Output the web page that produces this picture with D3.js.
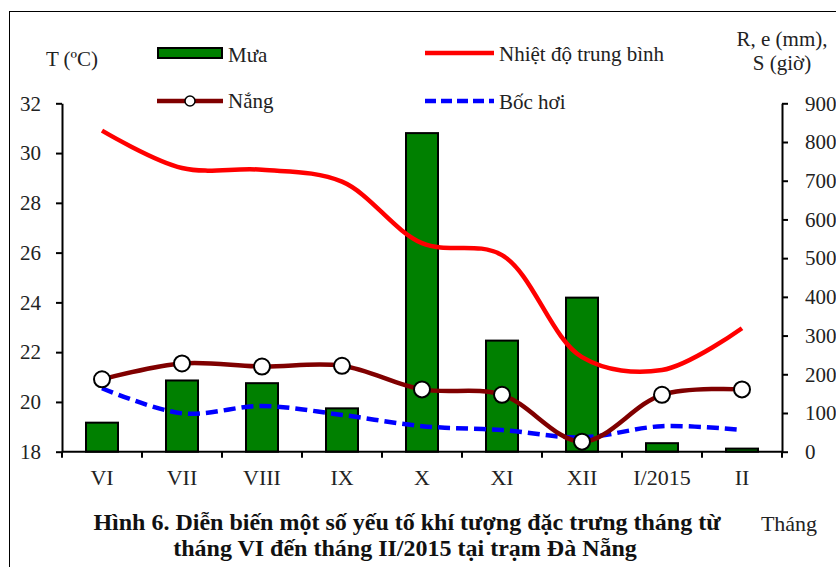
<!DOCTYPE html>
<html>
<head>
<meta charset="utf-8">
<script src="https://cdn.jsdelivr.net/npm/d3@7"></script>
<style>
  html, body { margin: 0; padding: 0; background: #fff; }
  svg { display: block; font-family: "Liberation Serif", "Times New Roman", serif; }
</style>
</head>
<body>
<svg id="chart" width="836" height="567"></svg>
<script>
// ---- data ----
const months = ["VI", "VII", "VIII", "IX", "X", "XI", "XII", "I/2015", "II"];
const rain = [75, 184, 177, 112, 823, 287, 398, 22, 8];            // Mưa (mm)
const temperature = [30.9, 29.4, 29.33, 28.85, 26.38, 25.9, 21.8, 21.28, 22.96]; // Nhiệt độ trung bình (°C)
const sunshine = [187, 228, 220, 222, 161, 147, 26, 147, 161];     // Nắng (giờ)
const evaporation = [164, 99, 118, 95, 66, 56, 37, 66, 56];        // Bốc hơi (mm)
const leftTicks = [18, 20, 22, 24, 26, 28, 30, 32];
const rightTicks = [0, 100, 200, 300, 400, 500, 600, 700, 800, 900];

const svg = d3.select("#chart");
const x0 = 62, x1 = 782, yTop = 103.3, yBot = 451.7;

// frame
svg.append("rect").attr("x", 9.5).attr("y", 11.5).attr("width", 900).attr("height", 700)
  .attr("fill", "none").attr("stroke", "#000").attr("stroke-width", 1);

const x = d3.scaleBand().domain(months).range([x0, x1]).paddingInner(0.6).paddingOuter(0.3);
const xc = d => x(d) + x.bandwidth() / 2;
const yL = d3.scaleLinear().domain([18, 32]).range([yBot, yTop]);
const yR = d3.scaleLinear().domain([0, 900]).range([yBot, yTop]);

// bars
svg.append("g").selectAll("rect").data(months).join("rect")
  .attr("x", d => x(d))
  .attr("y", (d, i) => yR(rain[i]))
  .attr("width", x.bandwidth())
  .attr("height", (d, i) => yBot - yR(rain[i]))
  .attr("fill", "#008000").attr("stroke", "#000").attr("stroke-width", 2);

// axes
const axL = svg.append("g").attr("transform", `translate(${x0},0)`)
  .call(d3.axisLeft(yL).tickValues(leftTicks).tickSize(6).tickPadding(12).tickSizeOuter(0));
const axR = svg.append("g").attr("transform", `translate(${x1},0)`)
  .call(d3.axisRight(yR).tickValues(rightTicks).tickSize(6).tickPadding(12).tickSizeOuter(0));
const xTicks = d3.scaleLinear().domain([0, months.length]).range([x0, x1]);
const axB = svg.append("g").attr("transform", `translate(0,${yBot})`);
axB.append("line").attr("x1", x0).attr("x2", x1).attr("stroke", "#000").attr("stroke-width", 2);
axB.selectAll("line.t").data(d3.range(months.length + 1)).join("line").attr("class", "t")
  .attr("x1", d => xTicks(d)).attr("x2", d => xTicks(d)).attr("y1", 0).attr("y2", 6)
  .attr("stroke", "#000").attr("stroke-width", 2);
axB.selectAll("text").data(months).join("text")
  .attr("x", d => xc(d)).attr("y", 33).attr("text-anchor", "middle")
  .attr("font-size", 22).attr("fill", "#222").text(d => d);

[axL, axR].forEach(a => {
  a.select(".domain").attr("stroke-width", 2);
  a.selectAll(".tick line").attr("stroke-width", 2);
  a.selectAll(".tick text").attr("font-size", 21).attr("font-family", "Liberation Serif").attr("fill", "#222");
});
axL.selectAll(".tick text").attr("dx", -3);
axR.selectAll(".tick text").attr("dx", 5);

// lines
const curve = d3.curveCatmullRom.alpha(0.5);
const lineR = d3.line().x((d, i) => xc(months[i])).y(d => yR(d)).curve(curve);
const lineL = d3.line().x((d, i) => xc(months[i])).y(d => yL(d)).curve(curve);

svg.append("path").attr("d", lineR(evaporation)).attr("fill", "none")
  .attr("stroke", "#0000ff").attr("stroke-width", 4.5).attr("stroke-dasharray", "12,6");
svg.append("path").attr("d", lineL(temperature)).attr("fill", "none")
  .attr("stroke", "#ff0000").attr("stroke-width", 4.5);
svg.append("path").attr("d", lineR(sunshine)).attr("fill", "none")
  .attr("stroke", "#800000").attr("stroke-width", 4.5);
svg.append("g").selectAll("circle").data(sunshine).join("circle")
  .attr("cx", (d, i) => xc(months[i])).attr("cy", d => yR(d)).attr("r", 8)
  .attr("fill", "#fff").attr("stroke", "#000").attr("stroke-width", 2);

// legend
const lg = svg.append("g").attr("font-size", 21).attr("fill", "#222");
lg.append("rect").attr("x", 158).attr("y", 48).attr("width", 64).attr("height", 10)
  .attr("fill", "#008000").attr("stroke", "#000").attr("stroke-width", 2);
lg.append("text").attr("x", 228).attr("y", 62).text("Mưa");
lg.append("line").attr("x1", 157).attr("x2", 223).attr("y1", 101).attr("y2", 101)
  .attr("stroke", "#800000").attr("stroke-width", 4.5);
lg.append("circle").attr("cx", 190).attr("cy", 101).attr("r", 5)
  .attr("fill", "#fff").attr("stroke", "#000").attr("stroke-width", 1.5);
lg.append("text").attr("x", 228).attr("y", 108).text("Nắng");
lg.append("line").attr("x1", 425).attr("x2", 494).attr("y1", 53).attr("y2", 53)
  .attr("stroke", "#ff0000").attr("stroke-width", 4.5);
lg.append("text").attr("x", 499).attr("y", 61).text("Nhiệt độ trung bình");
lg.append("line").attr("x1", 425).attr("x2", 494).attr("y1", 101).attr("y2", 101)
  .attr("stroke", "#0000ff").attr("stroke-width", 4.5).attr("stroke-dasharray", "11,5");
lg.append("text").attr("x", 499).attr("y", 109).text("Bốc hơi");

// axis titles
const tt = svg.append("g").attr("font-size", 21).attr("fill", "#222").attr("text-anchor", "middle");
tt.append("text").attr("x", 72).attr("y", 66).text("T (ºC)");
tt.append("text").attr("x", 782).attr("y", 46).text("R, e (mm),");
tt.append("text").attr("x", 782).attr("y", 70).text("S (giờ)");
tt.append("text").attr("x", 789).attr("y", 531).attr("font-size", 22).text("Tháng");

// caption
const cap = svg.append("g").attr("font-size", 24).attr("font-weight", "bold").attr("fill", "#111").attr("text-anchor", "middle");
cap.append("text").attr("x", 407).attr("y", 530).text("Hình 6. Diễn biến một số yếu tố khí tượng đặc trưng tháng từ");
cap.append("text").attr("x", 405).attr("y", 556).text("tháng VI đến tháng II/2015 tại trạm Đà Nẵng");
</script>
</body>
</html>
